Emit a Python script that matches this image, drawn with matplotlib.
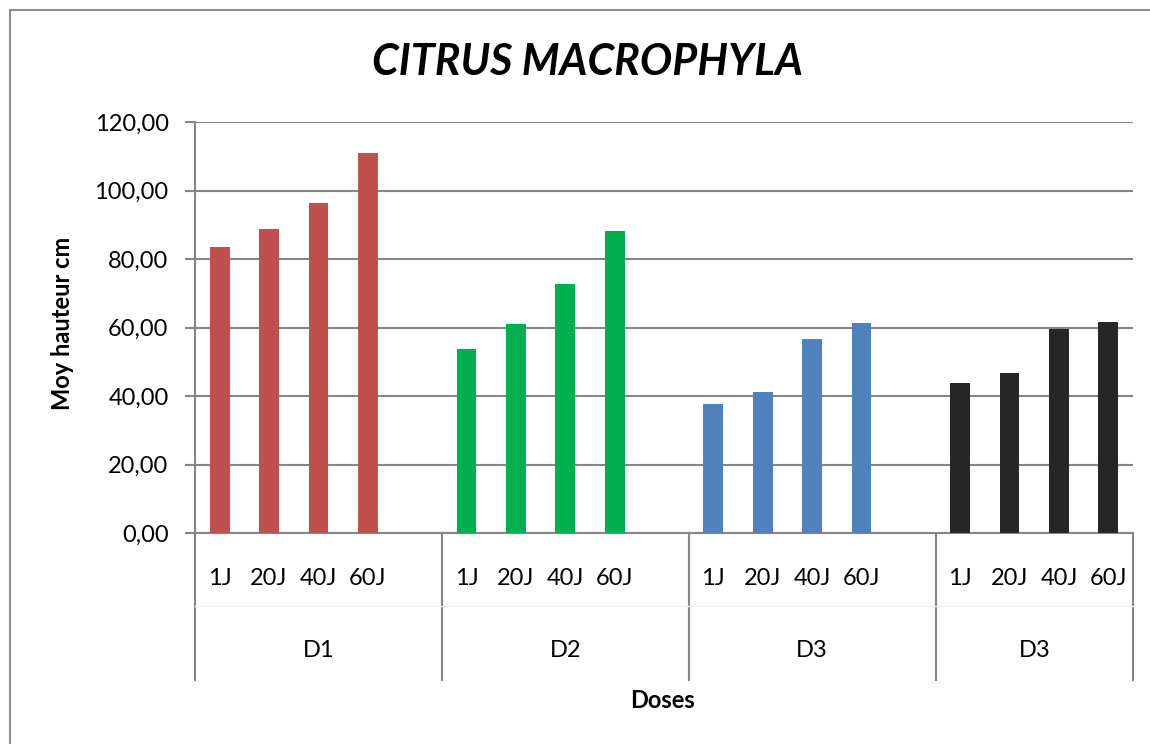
import matplotlib.pyplot as plt
from matplotlib.patches import Rectangle
from matplotlib.ticker import FuncFormatter

plt.rcParams['font.family'] = ['Lato', 'DejaVu Sans']

# Data
days = ['1J', '20J', '40J', '60J']
doses = ['D1', 'D2', 'D3', 'D3']
heights = [
    [83.5, 88.8, 96.4, 110.9],
    [53.7, 61.0, 72.7, 88.2],
    [37.6, 41.3, 56.6, 61.3],
    [43.8, 46.7, 59.6, 61.6],
]
colors = ['#C0504D', '#00B050', '#4F81BD', '#262626']

fig = plt.figure(figsize=(11.5, 7.44), dpi=100)
ax = fig.add_axes([195 / 1150, 1 - 533 / 744, 938 / 1150, 411 / 744])

# outer chart border
fig.patches.append(Rectangle((10 / 1150, -0.1), 1.2, 1 - 10 / 744 + 0.1,
                             transform=fig.transFigure, fill=False,
                             edgecolor='#8c8c8c', linewidth=1.5))

# each dose group uses 5 slots (4 bars + a gap), the last one has no gap
xs, labels = [], []
for g, vals in enumerate(heights):
    start = g * 5
    x = [start + i for i in range(len(vals))]
    ax.bar(x, vals, width=0.4, color=colors[g], zorder=3)
    xs += x
    labels += days

ax.set_xlim(-0.5, 18.5)
ax.set_ylim(0, 120)
ax.set_yticks(range(0, 121, 20))
ax.yaxis.set_major_formatter(FuncFormatter(lambda v, p: f'{v:.2f}'.replace('.', ',')))
ax.tick_params(axis='y', labelsize=17, length=7, color='#868686', width=1.5, pad=12)
ax.grid(axis='y', color='#868686', linewidth=1.5, zorder=0)
ax.set_xticks([])

for s in ['top', 'right']:
    ax.spines[s].set_visible(False)
for s in ['left', 'bottom']:
    ax.spines[s].set_color('#868686')
    ax.spines[s].set_linewidth(1.5)

# multi-level category labels
trans = ax.get_xaxis_transform()
for x, lab in zip(xs, labels):
    ax.text(x, -0.11, lab, transform=trans, ha='center', va='center', fontsize=17)
bounds = [-0.5, 4.5, 9.5, 14.5, 18.5]
for g, d in enumerate(doses):
    mid = (bounds[g] + bounds[g + 1]) / 2
    ax.text(mid, -0.285, d, transform=trans, ha='center', va='center', fontsize=17)
for b in bounds:
    ax.plot([b, b], [0, -0.357], transform=trans, color='#868686',
            linewidth=1.5, clip_on=False)
ax.plot([-0.5, 18.5], [-0.178, -0.178], transform=trans, color='#f2f2f2',
        linewidth=1, clip_on=False)

fig.text(587 / 1150, 1 - 62 / 744, 'CITRUS MACROPHYLA', ha='center', va='center',
         fontsize=31, fontweight='bold', fontstyle='italic')
fig.text(62 / 1150, 1 - 323 / 744, 'Moy hauteur cm', rotation=90, ha='center',
         va='center', fontsize=17, fontweight='bold')
fig.text(663 / 1150, 1 - 701 / 744, 'Doses', ha='center', va='center',
         fontsize=17, fontweight='bold')

fig.savefig('out.png', dpi=100)
